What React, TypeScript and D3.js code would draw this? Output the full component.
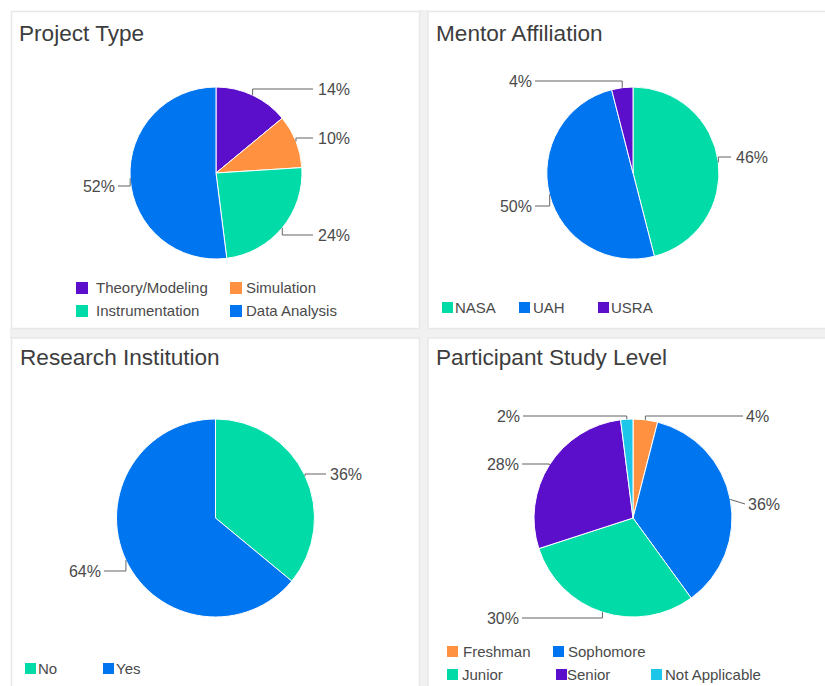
import React from "react";
import * as d3 from "d3";

// ---------- DATA ----------
const projectTypes = ["Theory/Modeling", "Simulation", "Instrumentation", "Data Analysis"];
const projectValues = [14, 10, 24, 52];

const mentorAffiliations = ["NASA", "UAH", "USRA"];
const mentorValues = [46, 50, 4];

const researchInstitution = ["No", "Yes"];
const researchValues = [36, 64];

const studyLevels = ["Freshman", "Sophomore", "Junior", "Senior", "Not Applicable"];
const studyValues = [4, 36, 30, 28, 2];

const COLORS: Record<string, string> = {
  purple: "#5b0fcb",
  orange: "#ff9140",
  green: "#00dba8",
  blue: "#0075f0",
  cyan: "#1cc6e8",
};

const projectColors = [COLORS.purple, COLORS.orange, COLORS.green, COLORS.blue];
const mentorColors = [COLORS.green, COLORS.blue, COLORS.purple];
const researchColors = [COLORS.green, COLORS.blue];
const studyColors = [COLORS.orange, COLORS.blue, COLORS.green, COLORS.purple, COLORS.cyan];

// ---------- LAYOUT ----------
type LabelLayout = { y: number; side: "L" | "R"; lineEnd: number; textX: number; diag?: boolean };
type LegendItem = { sx: number; sy: number; size: number; tx: number };

interface PanelCfg {
  title: string;
  tx: number;
  ty: number;
  cx: number;
  cy: number;
  r: number;
  names: string[];
  values: number[];
  colors: string[];
  labels: LabelLayout[];
  legend: LegendItem[];
}

const panels: PanelCfg[] = [
  {
    title: "Project Type",
    tx: 19,
    ty: 41,
    cx: 216,
    cy: 173,
    r: 86,
    names: projectTypes,
    values: projectValues,
    colors: projectColors,
    labels: [
      { y: 89, side: "R", lineEnd: 313, textX: 318 },
      { y: 138, side: "R", lineEnd: 313, textX: 318 },
      { y: 235, side: "R", lineEnd: 313, textX: 318 },
      { y: 186, side: "L", lineEnd: 118, textX: 115 },
    ],
    legend: [
      { sx: 76, sy: 282, size: 12, tx: 96 },
      { sx: 230, sy: 282, size: 12, tx: 246 },
      { sx: 76, sy: 305, size: 12, tx: 96 },
      { sx: 230, sy: 305, size: 12, tx: 246 },
    ],
  },
  {
    title: "Mentor Affiliation",
    tx: 436,
    ty: 41,
    cx: 633,
    cy: 173,
    r: 86,
    names: mentorAffiliations,
    values: mentorValues,
    colors: mentorColors,
    labels: [
      { y: 157, side: "R", lineEnd: 731, textX: 736 },
      { y: 206, side: "L", lineEnd: 535, textX: 532 },
      { y: 81, side: "L", lineEnd: 535, textX: 532 },
    ],
    legend: [
      { sx: 442, sy: 302, size: 11, tx: 455 },
      { sx: 519, sy: 302, size: 11, tx: 533 },
      { sx: 598, sy: 302, size: 11, tx: 611 },
    ],
  },
  {
    title: "Research Institution",
    tx: 20,
    ty: 365,
    cx: 215.5,
    cy: 518,
    r: 99,
    names: researchInstitution,
    values: researchValues,
    colors: researchColors,
    labels: [
      { y: 474, side: "R", lineEnd: 326, textX: 330 },
      { y: 571, side: "L", lineEnd: 104, textX: 101 },
    ],
    legend: [
      { sx: 25, sy: 663, size: 11, tx: 38 },
      { sx: 103, sy: 663, size: 11, tx: 116 },
    ],
  },
  {
    title: "Participant Study Level",
    tx: 436,
    ty: 365,
    cx: 633,
    cy: 518,
    r: 99,
    names: studyLevels,
    values: studyValues,
    colors: studyColors,
    labels: [
      { y: 416, side: "R", lineEnd: 743, textX: 746 },
      { y: 504, side: "R", lineEnd: 745, textX: 748, diag: true },
      { y: 618, side: "L", lineEnd: 522, textX: 519 },
      { y: 464, side: "L", lineEnd: 522, textX: 519 },
      { y: 416, side: "L", lineEnd: 523, textX: 520 },
    ],
    legend: [
      { sx: 447, sy: 646, size: 11, tx: 463 },
      { sx: 553, sy: 646, size: 11, tx: 568 },
      { sx: 447, sy: 669, size: 11, tx: 462 },
      { sx: 556, sy: 669, size: 11, tx: 567 },
      { sx: 651, sy: 669, size: 11, tx: 665 },
    ],
  },
];

const FONT = "'Liberation Sans', Arial, sans-serif";

function PiePanel({ cfg }: { cfg: PanelCfg }) {
  const total = d3.sum(cfg.values);
  const pie = d3
    .pie<number>()
    .sort(null)
    .value((d) => d)
    .startAngle(0)
    .endAngle(2 * Math.PI);
  const arcs = pie(cfg.values);
  const arc = d3.arc<d3.PieArcDatum<number>>().innerRadius(0).outerRadius(cfg.r);

  return (
    <g>
      <text x={cfg.tx} y={cfg.ty} fontFamily={FONT} fontSize={22.6} fill="#3d3d3d">
        {cfg.title}
      </text>
      <g transform={`translate(${cfg.cx},${cfg.cy})`}>
        {arcs.map((a, i) => (
          <path key={i} d={arc(a) || ""} fill={cfg.colors[i]} stroke="#ffffff" strokeWidth={1} />
        ))}
      </g>
      {arcs.map((a, i) => {
        const lab = cfg.labels[i];
        const mid = (a.startAngle + a.endAngle) / 2;
        const ax = cfg.cx + cfg.r * Math.sin(mid);
        const ay = cfg.cy - cfg.r * Math.cos(mid);
        const path = d3.path();
        path.moveTo(ax, ay);
        if (!lab.diag) path.lineTo(ax, lab.y);
        path.lineTo(lab.lineEnd, lab.y);
        const pct = d3.format(".0%")(a.value / total);
        return (
          <g key={i}>
            <path d={path.toString()} fill="none" stroke="#636363" strokeWidth={1} />
            <text
              x={lab.textX}
              y={lab.y}
              dy="0.36em"
              textAnchor={lab.side === "R" ? "start" : "end"}
              fontFamily={FONT}
              fontSize={16}
              fill="#4a4a4a"
            >
              {pct}
            </text>
          </g>
        );
      })}
      {cfg.legend.map((l, i) => (
        <g key={i}>
          <rect x={l.sx} y={l.sy} width={l.size} height={l.size} fill={cfg.colors[i]} />
          <text
            x={l.tx}
            y={l.sy + l.size / 2}
            dy="0.36em"
            fontFamily={FONT}
            fontSize={15}
            fill="#4a4a4a"
          >
            {cfg.names[i]}
          </text>
        </g>
      ))}
    </g>
  );
}

export default function App() {
  const W = 825;
  const H = 686;
  const boxes = [
    { x: 11.5, y: 11.5, w: 408, h: 317 },
    { x: 428, y: 11.5, w: 410, h: 317 },
    { x: 11.5, y: 338, w: 408, h: 360 },
    { x: 428, y: 338, w: 410, h: 360 },
  ];
  return (
    <svg
      width={W}
      height={H}
      style={{ position: "absolute", left: 0, top: 0, background: "#ffffff" }}
    >
      <rect x={0} y={0} width={W} height={H} fill="#ffffff" />
      <rect x={419} y={10} width={10} height={H} fill="#f1f1f1" />
      <rect x={10} y={328.5} width={W} height={10} fill="#f1f1f1" />
      {boxes.map((b, i) => (
        <rect
          key={i}
          x={b.x}
          y={b.y}
          width={b.w}
          height={b.h}
          fill="#ffffff"
          stroke="#e8e8e8"
          strokeWidth={1.5}
        />
      ))}
      {panels.map((p, i) => (
        <PiePanel key={i} cfg={p} />
      ))}
    </svg>
  );
}
